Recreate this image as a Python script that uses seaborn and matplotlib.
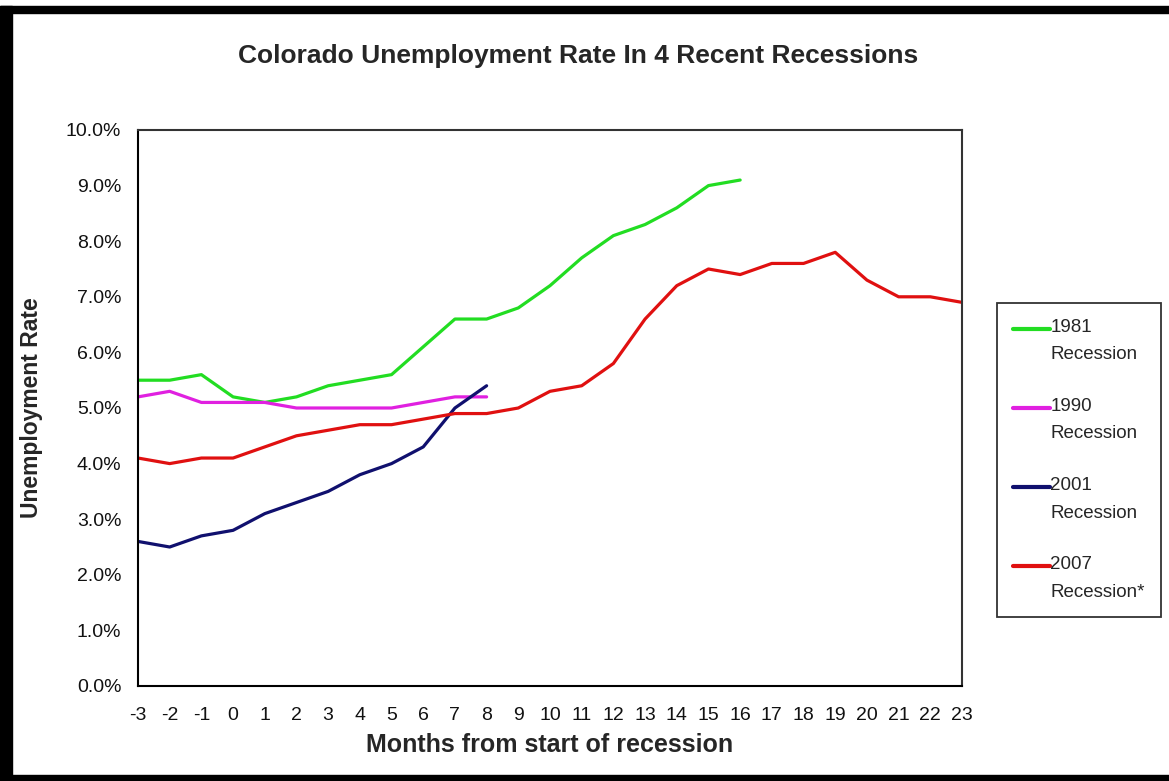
import numpy as np
import pandas as pd
import matplotlib
matplotlib.use('Agg')
import matplotlib.pyplot as plt
from matplotlib.patches import Rectangle
from matplotlib.legend_handler import HandlerLine2D
import seaborn as sns

# Data (unemployment rate, %)
months = list(range(-3, 24))
rate_1981 = [5.5, 5.5, 5.6, 5.2, 5.1, 5.2, 5.4, 5.5, 5.6, 6.1, 6.6, 6.6, 6.8, 7.2,
             7.7, 8.1, 8.3, 8.6, 9.0, 9.1]
rate_1990 = [5.2, 5.3, 5.1, 5.1, 5.1, 5.0, 5.0, 5.0, 5.0, 5.1, 5.2, 5.2]
rate_2001 = [2.6, 2.5, 2.7, 2.8, 3.1, 3.3, 3.5, 3.8, 4.0, 4.3, 5.0, 5.4]
rate_2007 = [4.1, 4.0, 4.1, 4.1, 4.3, 4.5, 4.6, 4.7, 4.7, 4.8, 4.9, 4.9, 5.0, 5.3,
             5.4, 5.8, 6.6, 7.2, 7.5, 7.4, 7.6, 7.6, 7.8, 7.3, 7.0, 7.0, 6.9]

series_names = ['1981\nRecession', '1990\nRecession', '2001\nRecession', '2007\nRecession*']
series_values = [rate_1981, rate_1990, rate_2001, rate_2007]
colors = ['#22dd22', '#e020e0', '#10106e', '#e01010']

# Long-form table for seaborn
frames = []
for name, vals in zip(series_names, series_values):
    frames.append(pd.DataFrame({'month': months[:len(vals)], 'rate': vals, 'series': name}))
df = pd.concat(frames, ignore_index=True)


class FirstLineHandler(HandlerLine2D):
    # put the legend line next to the first text line instead of the middle
    def __init__(self, shift, **kw):
        super().__init__(**kw)
        self.shift = shift

    def create_artists(self, *args, **kwargs):
        artists = super().create_artists(*args, **kwargs)
        for a in artists:
            a.set_ydata(np.asarray(a.get_ydata()) + self.shift)
        return artists


sns.set_style('white')
plt.rcParams['font.family'] = ['Liberation Sans', 'DejaVu Sans']

fig = plt.figure(figsize=(11.69, 7.81), dpi=100)
W, H = 1169, 781
ax = fig.add_axes([138 / W, 1 - 686 / H, (962 - 138) / W, (686 - 130) / H])

sns.lineplot(data=df, x='month', y='rate', hue='series', hue_order=series_names,
             palette=colors, linewidth=2.3, ax=ax, legend=False, estimator=None)

ax.set_xlim(-3, 23)
ax.set_ylim(0, 10)
ax.set_xticks(months)
ax.set_xticklabels([str(m) for m in months])
ax.set_yticks(range(0, 11))
ax.set_yticklabels([f'{v:.1f}%' for v in range(0, 11)])
ax.tick_params(axis='both', direction='out', length=6, width=1.2, color='black',
               labelsize=14, labelcolor='#111111')
ax.tick_params(axis='x', pad=9)
ax.tick_params(axis='y', pad=6)

for side in ['left', 'bottom']:
    ax.spines[side].set_color('black')
    ax.spines[side].set_linewidth(1.5)
for side in ['top', 'right']:
    ax.spines[side].set_color('#333333')
    ax.spines[side].set_linewidth(1.5)

ax.set_xlabel('Months from start of recession', fontsize=18, fontweight='bold')
ax.set_ylabel('Unemployment Rate', fontsize=16.5, fontweight='bold')
ax.xaxis.set_label_coords(0.5, (686 - 733) / 556)
ax.yaxis.set_label_coords((43 - 138) / 824, 0.5)

fig.text(578 / W, 1 - 56 / H, 'Colorado Unemployment Rate In 4 Recent Recessions',
         ha='center', va='center', fontsize=19, fontweight='bold')

# Legend box on the right
handles = ax.get_lines()[:4]
leg = ax.legend(handles, series_names, loc='upper left',
                bbox_to_anchor=(997 / W, 1 - 303 / H), bbox_transform=fig.transFigure,
                frameon=True, fancybox=False, shadow=False, fontsize=13.5,
                handlelength=1.95, handletextpad=0.05, labelspacing=1.85,
                borderpad=0.85, borderaxespad=0,
                handler_map={plt.Line2D: FirstLineHandler(shift=8.8)})
leg.get_frame().set_edgecolor('black')
leg.get_frame().set_linewidth(1.3)
for t in leg.get_texts():
    t.set_linespacing(1.8)
for line in leg.get_lines():
    line.set_linewidth(3)

# Outer black frame of the screenshot
fig.patches.append(Rectangle((0, 1 - 13 / H), 1, 7 / H, transform=fig.transFigure,
                             color='black', zorder=10))
fig.patches.append(Rectangle((0, 0), 12 / W, 1 - 6 / H, transform=fig.transFigure,
                             color='black', zorder=10))
fig.patches.append(Rectangle((0, 0), 1, 6 / H, transform=fig.transFigure,
                             color='black', zorder=10))

fig.savefig('out.png', dpi=100)
